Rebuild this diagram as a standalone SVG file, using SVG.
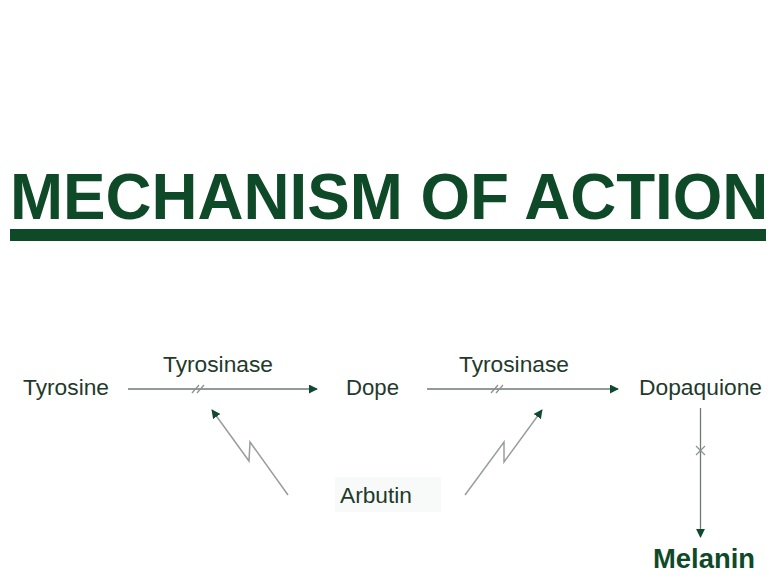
<svg xmlns="http://www.w3.org/2000/svg" width="776" height="586" viewBox="0 0 776 586">
  <style>
    .lbl { font-family: "Liberation Sans", Arial, sans-serif; font-size: 22.5px; fill: #1f3a2c; }
    .title { font-family: "Liberation Sans", Arial, sans-serif; font-weight: bold; font-size: 65px; fill: #0f4a28; }
    .mel { font-family: "Liberation Sans", Arial, sans-serif; font-weight: bold; font-size: 27px; fill: #0f4a28; }
    .ln { stroke: #707a74; stroke-width: 1.3; fill: none; }
    .bolt { stroke: #9a9e9b; stroke-width: 1.5; fill: none; }
    .tick { stroke: #8a928d; stroke-width: 1.2; fill: none; }
  </style>
  <defs>
    <marker id="ah" viewBox="0 0 10 10" refX="9" refY="5" markerWidth="9" markerHeight="9" markerUnits="userSpaceOnUse" orient="auto">
      <path d="M0,0 L10,5 L0,10 Z" fill="#0f4a30"/>
    </marker>
  </defs>
  <rect width="776" height="586" fill="#ffffff"/>

  <g id="title">
    <text class="title" transform="translate(10,219) scale(0.98,1)" x="0" y="0">MECHANISM OF ACTION</text>
    <rect x="10" y="229" width="756" height="12" fill="#0f4a28"/>
  </g>

  <g id="connectors">
    <line class="ln" x1="128" y1="389" x2="317" y2="389" marker-end="url(#ah)"/>
    <path class="tick" d="M192,393 L199,385 M197,393 L204,385"/>
    <line class="ln" x1="427" y1="389" x2="618" y2="389" marker-end="url(#ah)"/>
    <path class="tick" d="M491,393 L498,385 M496,393 L503,385"/>
    <line class="ln" x1="700.5" y1="408" x2="700.5" y2="537" marker-end="url(#ah)"/>
    <path class="tick" d="M696,446 L705,455 M705,446 L696,455"/>
    <polyline class="bolt" points="288,495 250,442 249,461 212,410" marker-end="url(#ah)"/>
    <polyline class="bolt" points="465,495 504,442 504,462 542,410" marker-end="url(#ah)"/>
  </g>

  <g id="tyrosine"><text class="lbl" x="23" y="395" textLength="86" lengthAdjust="spacingAndGlyphs">Tyrosine</text></g>
  <g id="tyrosinase1"><text class="lbl" x="163" y="372" textLength="110" lengthAdjust="spacingAndGlyphs">Tyrosinase</text></g>
  <g id="dope"><text class="lbl" x="346" y="395" textLength="53" lengthAdjust="spacingAndGlyphs">Dope</text></g>
  <g id="tyrosinase2"><text class="lbl" x="459" y="372" textLength="110" lengthAdjust="spacingAndGlyphs">Tyrosinase</text></g>
  <g id="dopaquione"><text class="lbl" x="639" y="395" textLength="123" lengthAdjust="spacingAndGlyphs">Dopaquione</text></g>
  <g id="arbutin">
    <rect x="335" y="477" width="106" height="35" fill="#f8faf9"/>
    <text class="lbl" x="340" y="503" textLength="72" lengthAdjust="spacingAndGlyphs">Arbutin</text>
  </g>
  <g id="melanin"><text class="mel" x="653" y="568" textLength="102" lengthAdjust="spacingAndGlyphs">Melanin</text></g>
</svg>
